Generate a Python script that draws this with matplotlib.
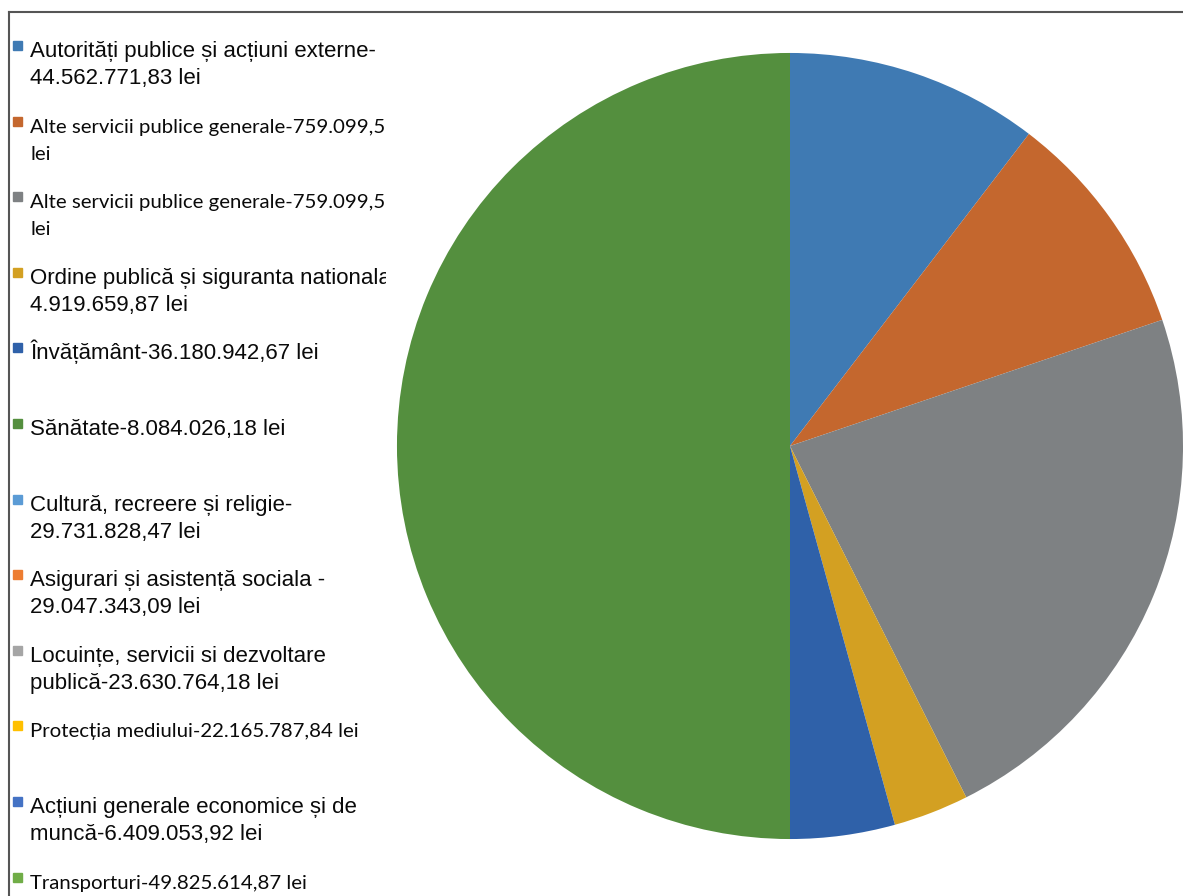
import matplotlib
matplotlib.use('Agg')
import matplotlib.pyplot as plt
from matplotlib.patches import Rectangle
from matplotlib.lines import Line2D

# Legenda (12 categorii) - textul este impartit pe randuri ca in original
etichete = [
    ['Autorități publice și acțiuni externe-', '44.562.771,83 lei'],
    ['Alte servicii publice generale-759.099,5', 'lei'],
    ['Alte servicii publice generale-759.099,5', 'lei'],
    ['Ordine publică și siguranta nationala-', '4.919.659,87 lei'],
    ['Învățământ-36.180.942,67 lei'],
    ['Sănătate-8.084.026,18 lei'],
    ['Cultură, recreere și religie-', '29.731.828,47 lei'],
    ['Asigurari și asistență sociala -', '29.047.343,09 lei'],
    ['Locuințe, servicii si dezvoltare', 'publică-23.630.764,18 lei'],
    ['Protecția mediului-22.165.787,84 lei'],
    ['Acțiuni generale economice și de', 'muncă-6.409.053,92 lei'],
    ['Transporturi-49.825.614,87 lei'],
]
culori_legenda = ['#3f7ab3', '#c4672e', '#7e8183', '#d3a022', '#2f61a9', '#548f3e',
                  '#5b9bd5', '#ed7d31', '#a5a5a5', '#ffc000', '#4472c4', '#70ad47']
# fontul fiecarei intrari (unele sunt Calibri in original)
fonturi = ['arial', 'calibri', 'calibri', 'arial', 'arial', 'arial',
           'arial', 'arial', 'arial', 'calibri', 'arial', 'calibri']

# Felii vizibile in grafic (procente)
valori_pie = [10.4, 9.4, 22.8, 3.1, 4.3, 50.0]
culori_pie = culori_legenda[:6]

W, H = 1183, 896
fig = plt.figure(figsize=(W / 100, H / 100), dpi=100)

familii = {
    'arial': ['Liberation Sans Narrow', 'Liberation Sans', 'DejaVu Sans'],
    'calibri': ['Lato', 'DejaVu Sans'],
}
marimi = {'arial': 16, 'calibri': 14.7}

# axa pentru legenda, in pixeli
axl = fig.add_axes([0, 0, 386 / W, 1])
axl.set_xlim(0, 386)
axl.set_ylim(H, 0)
axl.axis('off')

for i, linii in enumerate(etichete):
    baza = 57 + 75.6 * i
    axl.add_patch(Rectangle((13, baza - 16), 9, 9, color=culori_legenda[i]))
    for j, linie in enumerate(linii):
        axl.text(30, baza + 27 * j, linie, va='baseline', ha='left',
                 fontsize=marimi[fonturi[i]], family=familii[fonturi[i]],
                 color='#0a0a0a', clip_on=True)

# plăcinta
cx, cy, r = 790, 446, 395
ax = fig.add_axes([(cx - r) / W, (H - cy - r) / H, 2 * r / W, 2 * r / H])
ax.pie(valori_pie, colors=culori_pie, startangle=90, counterclock=False)
ax.set_xlim(-1.005, 1.005)
ax.set_ylim(-1.005, 1.005)
ax.set_aspect('equal')

# chenarul (doar stanga si sus)
fig.add_artist(Line2D([9 / W, 9 / W], [0, 1 - 12 / H], color='#555555', lw=1.5))
fig.add_artist(Line2D([9 / W, 1], [1 - 12 / H, 1 - 12 / H], color='#555555', lw=1.5))

fig.savefig('out.png', dpi=100)
